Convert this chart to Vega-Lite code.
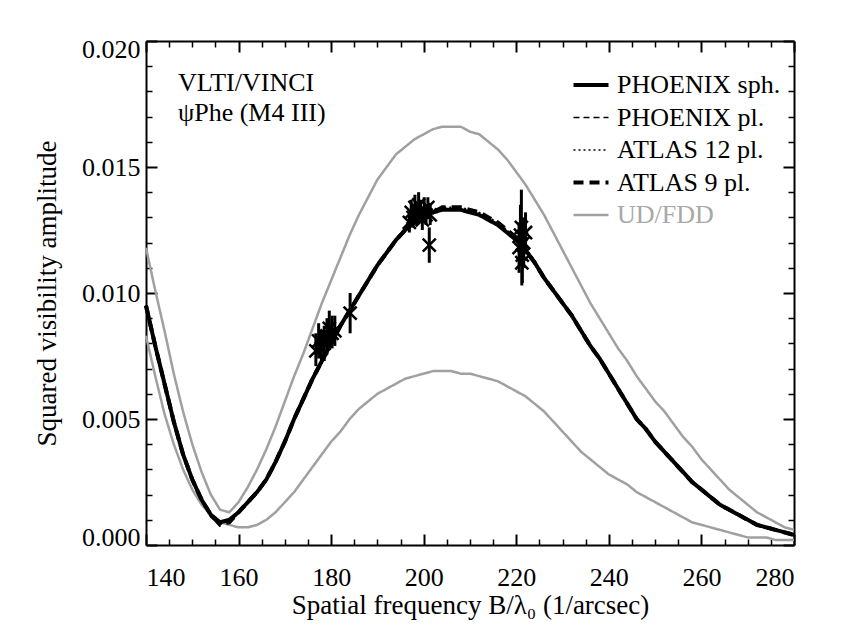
{
  "$schema": "https://vega.github.io/schema/vega-lite/v6.json",
  "width": 648,
  "height": 504,
  "autosize": {"type": "none"},
  "padding": {"left": 146, "top": 41, "right": 59, "bottom": 92},
  "background": "white",
  "config": {
    "view": {"stroke": null},
    "font": "Liberation Serif",
    "axis": {
      "domainColor": "black",
      "domainWidth": 2,
      "tickColor": "black",
      "tickWidth": 2,
      "ticks": true,
      "labelFont": "Liberation Serif",
      "labelFontSize": 26,
      "labelColor": "black",
      "titleFont": "Liberation Serif",
      "titleFontSize": 27,
      "titleFontWeight": "normal",
      "titleColor": "black",
      "grid": false,
      "labelOverlap": false,
      "labelFlush": true
    }
  },
  "datasets": {
    "curves": [
      {"f":140,"ps":0.0095,"pp":0.0095,"a12":0.0095,"a9":0.0095,"ud":0.0118,"fdd":0.0083},
      {"f":142,"ps":0.0079,"pp":0.0079,"a12":0.0079,"a9":0.0079,"ud":0.0101,"fdd":0.0067},
      {"f":144,"ps":0.0064,"pp":0.0064,"a12":0.0064,"a9":0.0064,"ud":0.0085,"fdd":0.0052},
      {"f":146,"ps":0.0049,"pp":0.0049,"a12":0.0049,"a9":0.0049,"ud":0.0068,"fdd":0.0040},
      {"f":148,"ps":0.0036,"pp":0.0036,"a12":0.0036,"a9":0.0036,"ud":0.0053,"fdd":0.0030},
      {"f":150,"ps":0.0026,"pp":0.0026,"a12":0.0026,"a9":0.0026,"ud":0.0040,"fdd":0.0022},
      {"f":152,"ps":0.0018,"pp":0.0018,"a12":0.0018,"a9":0.0018,"ud":0.0029,"fdd":0.0016},
      {"f":154,"ps":0.0012,"pp":0.0011,"a12":0.0012,"a9":0.0012,"ud":0.0020,"fdd":0.0012},
      {"f":156,"ps":0.0009,"pp":0.0008,"a12":0.0009,"a9":0.0008,"ud":0.0014,"fdd":0.0009},
      {"f":158,"ps":0.0010,"pp":0.0010,"a12":0.0010,"a9":0.0009,"ud":0.0013,"fdd":0.0008},
      {"f":160,"ps":0.0013,"pp":0.0013,"a12":0.0013,"a9":0.0013,"ud":0.0017,"fdd":0.0007},
      {"f":162,"ps":0.0017,"pp":0.0017,"a12":0.0017,"a9":0.0017,"ud":0.0023,"fdd":0.0007},
      {"f":164,"ps":0.0021,"pp":0.0021,"a12":0.0021,"a9":0.0021,"ud":0.0030,"fdd":0.0008},
      {"f":166,"ps":0.0026,"pp":0.0026,"a12":0.0026,"a9":0.0026,"ud":0.0038,"fdd":0.0010},
      {"f":168,"ps":0.0033,"pp":0.0033,"a12":0.0033,"a9":0.0033,"ud":0.0047,"fdd":0.0013},
      {"f":170,"ps":0.0041,"pp":0.0041,"a12":0.0041,"a9":0.0041,"ud":0.0057,"fdd":0.0017},
      {"f":172,"ps":0.0050,"pp":0.0050,"a12":0.0050,"a9":0.0050,"ud":0.0067,"fdd":0.0021},
      {"f":174,"ps":0.0058,"pp":0.0058,"a12":0.0058,"a9":0.0058,"ud":0.0076,"fdd":0.0026},
      {"f":176,"ps":0.0066,"pp":0.0066,"a12":0.0066,"a9":0.0066,"ud":0.0086,"fdd":0.0031},
      {"f":178,"ps":0.0073,"pp":0.0073,"a12":0.0073,"a9":0.0073,"ud":0.0096,"fdd":0.0036},
      {"f":180,"ps":0.0080,"pp":0.0080,"a12":0.0080,"a9":0.0080,"ud":0.0105,"fdd":0.0041},
      {"f":182,"ps":0.0087,"pp":0.0087,"a12":0.0087,"a9":0.0087,"ud":0.0114,"fdd":0.0045},
      {"f":184,"ps":0.0093,"pp":0.0093,"a12":0.0093,"a9":0.0093,"ud":0.0123,"fdd":0.0050},
      {"f":186,"ps":0.0099,"pp":0.0099,"a12":0.0099,"a9":0.0099,"ud":0.0131,"fdd":0.0054},
      {"f":188,"ps":0.0105,"pp":0.0105,"a12":0.0105,"a9":0.0105,"ud":0.0138,"fdd":0.0057},
      {"f":190,"ps":0.0111,"pp":0.0111,"a12":0.0111,"a9":0.0111,"ud":0.0145,"fdd":0.0060},
      {"f":192,"ps":0.0116,"pp":0.0116,"a12":0.0116,"a9":0.0116,"ud":0.0150,"fdd":0.0062},
      {"f":194,"ps":0.0121,"pp":0.0121,"a12":0.0121,"a9":0.0121,"ud":0.0155,"fdd":0.0064},
      {"f":196,"ps":0.0125,"pp":0.0125,"a12":0.0125,"a9":0.0125,"ud":0.0158,"fdd":0.0066},
      {"f":198,"ps":0.0128,"pp":0.0128,"a12":0.0128,"a9":0.0128,"ud":0.0161,"fdd":0.0067},
      {"f":200,"ps":0.0131,"pp":0.0131,"a12":0.0132,"a9":0.0131,"ud":0.0163,"fdd":0.0068},
      {"f":202,"ps":0.0132,"pp":0.0132,"a12":0.0133,"a9":0.0132,"ud":0.0165,"fdd":0.0069},
      {"f":204,"ps":0.0133,"pp":0.0133,"a12":0.0134,"a9":0.0134,"ud":0.0166,"fdd":0.0069},
      {"f":206,"ps":0.0133,"pp":0.0133,"a12":0.0134,"a9":0.0134,"ud":0.0166,"fdd":0.0069},
      {"f":208,"ps":0.0133,"pp":0.0133,"a12":0.0134,"a9":0.0134,"ud":0.0166,"fdd":0.0068},
      {"f":210,"ps":0.0132,"pp":0.0132,"a12":0.0133,"a9":0.0133,"ud":0.0164,"fdd":0.0068},
      {"f":212,"ps":0.0131,"pp":0.0131,"a12":0.0132,"a9":0.0132,"ud":0.0163,"fdd":0.0067},
      {"f":214,"ps":0.0129,"pp":0.0129,"a12":0.0130,"a9":0.0130,"ud":0.0160,"fdd":0.0066},
      {"f":216,"ps":0.0127,"pp":0.0127,"a12":0.0128,"a9":0.0128,"ud":0.0157,"fdd":0.0065},
      {"f":218,"ps":0.0124,"pp":0.0124,"a12":0.0125,"a9":0.0125,"ud":0.0153,"fdd":0.0063},
      {"f":220,"ps":0.0121,"pp":0.0121,"a12":0.0122,"a9":0.0122,"ud":0.0148,"fdd":0.0061},
      {"f":222,"ps":0.0117,"pp":0.0117,"a12":0.0118,"a9":0.0117,"ud":0.0143,"fdd":0.0059},
      {"f":224,"ps":0.0112,"pp":0.0112,"a12":0.0113,"a9":0.0112,"ud":0.0137,"fdd":0.0056},
      {"f":226,"ps":0.0106,"pp":0.0106,"a12":0.0106,"a9":0.0106,"ud":0.0131,"fdd":0.0053},
      {"f":228,"ps":0.0101,"pp":0.0101,"a12":0.0101,"a9":0.0101,"ud":0.0124,"fdd":0.0049},
      {"f":230,"ps":0.0096,"pp":0.0096,"a12":0.0096,"a9":0.0096,"ud":0.0117,"fdd":0.0045},
      {"f":232,"ps":0.0091,"pp":0.0091,"a12":0.0091,"a9":0.0091,"ud":0.0110,"fdd":0.0041},
      {"f":234,"ps":0.0085,"pp":0.0085,"a12":0.0085,"a9":0.0085,"ud":0.0103,"fdd":0.0037},
      {"f":236,"ps":0.0079,"pp":0.0079,"a12":0.0079,"a9":0.0079,"ud":0.0096,"fdd":0.0034},
      {"f":238,"ps":0.0074,"pp":0.0074,"a12":0.0074,"a9":0.0074,"ud":0.0090,"fdd":0.0031},
      {"f":240,"ps":0.0068,"pp":0.0068,"a12":0.0068,"a9":0.0068,"ud":0.0084,"fdd":0.0028},
      {"f":242,"ps":0.0062,"pp":0.0062,"a12":0.0062,"a9":0.0062,"ud":0.0078,"fdd":0.0026},
      {"f":244,"ps":0.0056,"pp":0.0056,"a12":0.0056,"a9":0.0056,"ud":0.0073,"fdd":0.0024},
      {"f":246,"ps":0.0050,"pp":0.0050,"a12":0.0050,"a9":0.0050,"ud":0.0067,"fdd":0.0021},
      {"f":248,"ps":0.0046,"pp":0.0046,"a12":0.0046,"a9":0.0046,"ud":0.0062,"fdd":0.0019},
      {"f":250,"ps":0.0041,"pp":0.0041,"a12":0.0041,"a9":0.0041,"ud":0.0057,"fdd":0.0017},
      {"f":252,"ps":0.0037,"pp":0.0037,"a12":0.0037,"a9":0.0037,"ud":0.0053,"fdd":0.0015},
      {"f":254,"ps":0.0033,"pp":0.0033,"a12":0.0033,"a9":0.0033,"ud":0.0048,"fdd":0.0013},
      {"f":256,"ps":0.0029,"pp":0.0029,"a12":0.0029,"a9":0.0029,"ud":0.0043,"fdd":0.0011},
      {"f":258,"ps":0.0025,"pp":0.0025,"a12":0.0025,"a9":0.0025,"ud":0.0039,"fdd":0.0009},
      {"f":260,"ps":0.0022,"pp":0.0022,"a12":0.0022,"a9":0.0022,"ud":0.0034,"fdd":0.0008},
      {"f":262,"ps":0.0019,"pp":0.0019,"a12":0.0019,"a9":0.0019,"ud":0.0030,"fdd":0.0007},
      {"f":264,"ps":0.0016,"pp":0.0016,"a12":0.0016,"a9":0.0016,"ud":0.0026,"fdd":0.0006},
      {"f":266,"ps":0.0014,"pp":0.0014,"a12":0.0014,"a9":0.0014,"ud":0.0022,"fdd":0.0005},
      {"f":268,"ps":0.0012,"pp":0.0012,"a12":0.0012,"a9":0.0012,"ud":0.0019,"fdd":0.0004},
      {"f":270,"ps":0.0010,"pp":0.0010,"a12":0.0010,"a9":0.0010,"ud":0.0016,"fdd":0.0003},
      {"f":272,"ps":0.0008,"pp":0.0008,"a12":0.0008,"a9":0.0008,"ud":0.0013,"fdd":0.0003},
      {"f":274,"ps":0.0007,"pp":0.0007,"a12":0.0007,"a9":0.0007,"ud":0.0011,"fdd":0.0003},
      {"f":276,"ps":0.0006,"pp":0.0006,"a12":0.0006,"a9":0.0006,"ud":0.0009,"fdd":0.0002},
      {"f":278,"ps":0.0005,"pp":0.0005,"a12":0.0005,"a9":0.0005,"ud":0.0007,"fdd":0.0002},
      {"f":280,"ps":0.0004,"pp":0.0004,"a12":0.0004,"a9":0.0004,"ud":0.0006,"fdd":0.0002}
    ],
    "obs": [
      {"f":176.7,"v":0.0077,"lo":0.0071,"hi":0.0084},
      {"f":177.3,"v":0.0081,"lo":0.0074,"hi":0.0088},
      {"f":177.9,"v":0.0078,"lo":0.0072,"hi":0.0085},
      {"f":178.5,"v":0.0080,"lo":0.0073,"hi":0.0087},
      {"f":179.1,"v":0.0083,"lo":0.0077,"hi":0.0090},
      {"f":179.6,"v":0.0086,"lo":0.0079,"hi":0.0093},
      {"f":180.2,"v":0.0084,"lo":0.0078,"hi":0.0091},
      {"f":180.8,"v":0.0085,"lo":0.0079,"hi":0.0091},
      {"f":184.1,"v":0.0092,"lo":0.0084,"hi":0.0100},
      {"f":196.9,"v":0.0128,"lo":0.0124,"hi":0.0132},
      {"f":197.3,"v":0.0132,"lo":0.0127,"hi":0.0137},
      {"f":197.7,"v":0.0130,"lo":0.0126,"hi":0.0135},
      {"f":198.1,"v":0.0134,"lo":0.0129,"hi":0.0139},
      {"f":198.5,"v":0.0131,"lo":0.0127,"hi":0.0135},
      {"f":198.9,"v":0.0135,"lo":0.0130,"hi":0.0140},
      {"f":199.3,"v":0.0132,"lo":0.0128,"hi":0.0137},
      {"f":199.7,"v":0.0129,"lo":0.0125,"hi":0.0134},
      {"f":200.1,"v":0.0133,"lo":0.0129,"hi":0.0138},
      {"f":200.5,"v":0.0131,"lo":0.0127,"hi":0.0135},
      {"f":200.9,"v":0.0134,"lo":0.0130,"hi":0.0138},
      {"f":201.4,"v":0.0131,"lo":0.0127,"hi":0.0135},
      {"f":201.2,"v":0.0119,"lo":0.0112,"hi":0.0126},
      {"f":220.6,"v":0.0118,"lo":0.0108,"hi":0.0128},
      {"f":220.9,"v":0.0123,"lo":0.0111,"hi":0.0135},
      {"f":221.1,"v":0.0126,"lo":0.0112,"hi":0.0141},
      {"f":221.3,"v":0.0115,"lo":0.0104,"hi":0.0126},
      {"f":221.6,"v":0.0120,"lo":0.0110,"hi":0.0130},
      {"f":222.0,"v":0.0124,"lo":0.0116,"hi":0.0132},
      {"f":221.2,"v":0.0112,"lo":0.0103,"hi":0.0121}
    ],
    "notes": [
      {"t":"VLTI/VINCI","f":146.9,"v":0.01833},
      {"t":"ψPhe (M4 III)","f":146.9,"v":0.01714}
    ]
  },
  "layer": [
    {
      "encoding": {
        "x": {
          "field": "f", "type": "quantitative",
          "scale": {"domain": [140, 280], "nice": false, "zero": false},
          "axis": {
            "orient": "bottom",
            "values": [140,160,180,200,220,240,260,280],
            "format": "d",
            "tickSize": -11,
            "labelPadding": 30,
            "title": "Spatial frequency B/λ₀ (1/arcsec)",
            "titlePadding": 2
          }
        },
        "y": {
          "field": "v", "type": "quantitative",
          "scale": {"domain": [0, 0.02], "nice": false, "zero": false},
          "axis": {
            "orient": "left",
            "values": [0,0.005,0.010,0.015,0.020],
            "format": ".3f",
            "tickSize": -11,
            "labelPadding": 17,
            "labelFlushOffset": 5,
            "title": "Squared visibility amplitude",
            "titlePadding": 20
          }
        }
      },
      "layer": [
        {
          "data": {"name": "curves"},
          "transform": [{"fold": ["ud", "fdd"], "as": ["c", "v"]}],
          "mark": {"type": "line", "strokeWidth": 2.5},
          "encoding": {
            "detail": {"field": "c", "type": "nominal"},
            "color": {"datum": "ug", "type": "nominal"},
            "strokeDash": {"datum": "ug", "type": "nominal"}
          }
        },
        {
          "data": {"name": "curves"},
          "transform": [{"fold": ["ps"], "as": ["c", "v"]}],
          "mark": {"type": "line", "strokeWidth": 4},
          "encoding": {
            "color": {
              "field": "c", "type": "nominal",
              "scale": {"domain": ["ps", "pp", "a12", "a9", "ug"], "range": ["black", "black", "black", "black", "#a0a0a0"]},
              "legend": {
                "title": null,
                "orient": "none",
                "legendX": 432,
                "legendY": 31,
                "padding": 0,
                "symbolType": "stroke",
                "symbolSize": 1225,
                "labelFont": "Liberation Serif",
                "labelFontSize": 26,
                "labelColor": "black",
                "labelOffset": 13,
                "rowPadding": 6.5,
                "labelLimit": 400,
                "labelExpr": "{'ps': 'PHOENIX  sph.', 'pp': 'PHOENIX pl.', 'a12': 'ATLAS 12 pl.', 'a9': 'ATLAS  9  pl.', 'ug': 'UD/FDD'}[datum.value]",
                "encode": {
                  "labels": {"update": {"fill": {"signal": "datum.value === 'ug' ? '#a8a8a8' : 'black'"}}},
                  "symbols": {"update": {"strokeWidth": {"signal": "datum.value === 'ps' || datum.value === 'a9' ? 4 : (datum.value === 'ug' ? 2.5 : 1.5)"}}}
                }
              }
            },
            "strokeDash": {
              "field": "c", "type": "nominal",
              "scale": {"domain": ["ps", "pp", "a12", "a9", "ug"], "range": [[1, 0], [6, 4], [2, 3], [10, 6], [1, 0]]},
              "legend": {
                "title": null,
                "orient": "none",
                "legendX": 432,
                "legendY": 31,
                "padding": 0,
                "symbolType": "stroke",
                "symbolSize": 1225,
                "labelFont": "Liberation Serif",
                "labelFontSize": 26,
                "labelColor": "black",
                "labelOffset": 13,
                "rowPadding": 6.5,
                "labelLimit": 400,
                "labelExpr": "{'ps': 'PHOENIX  sph.', 'pp': 'PHOENIX pl.', 'a12': 'ATLAS 12 pl.', 'a9': 'ATLAS  9  pl.', 'ug': 'UD/FDD'}[datum.value]",
                "encode": {
                  "labels": {"update": {"fill": {"signal": "datum.value === 'ug' ? '#a8a8a8' : 'black'"}}},
                  "symbols": {"update": {"strokeWidth": {"signal": "datum.value === 'ps' || datum.value === 'a9' ? 4 : (datum.value === 'ug' ? 2.5 : 1.5)"}}}
                }
              }
            }
          }
        },
        {
          "data": {"name": "curves"},
          "transform": [{"fold": ["pp"], "as": ["c", "v"]}],
          "mark": {"type": "line", "strokeWidth": 1.5},
          "encoding": {
            "color": {"field": "c", "type": "nominal"},
            "strokeDash": {"field": "c", "type": "nominal"}
          }
        },
        {
          "data": {"name": "curves"},
          "transform": [{"fold": ["a12"], "as": ["c", "v"]}],
          "mark": {"type": "line", "strokeWidth": 1.5},
          "encoding": {
            "color": {"field": "c", "type": "nominal"},
            "strokeDash": {"field": "c", "type": "nominal"}
          }
        },
        {
          "data": {"name": "curves"},
          "transform": [{"fold": ["a9"], "as": ["c", "v"]}],
          "mark": {"type": "line", "strokeWidth": 4},
          "encoding": {
            "color": {"field": "c", "type": "nominal"},
            "strokeDash": {"field": "c", "type": "nominal"}
          }
        }
      ]
    },
    {
      "data": {"name": "obs"},
      "mark": {"type": "rule", "color": "black", "strokeWidth": 3},
      "encoding": {
        "x": {
          "field": "f", "type": "quantitative",
          "scale": {"domain": [140, 280], "nice": false, "zero": false},
          "axis": {"orient": "top", "values": [140,160,180,200,220,240,260,280], "labels": false, "tickSize": -11, "title": null}
        },
        "y": {
          "field": "lo", "type": "quantitative",
          "scale": {"domain": [0, 0.02], "nice": false, "zero": false},
          "axis": {"orient": "right", "values": [0,0.005,0.010,0.015,0.020], "labels": false, "tickSize": -11, "title": null}
        },
        "y2": {"field": "hi"}
      }
    },
    {
      "data": {"name": "notes"},
      "mark": {"type": "text", "align": "left", "baseline": "middle", "font": "Liberation Serif", "fontSize": 26, "color": "black"},
      "encoding": {
        "x": {
          "field": "f", "type": "quantitative",
          "scale": {"domain": [140, 280], "nice": false, "zero": false},
          "axis": {"orient": "bottom", "values": [145,150,155,165,170,175,185,190,195,205,210,215,225,230,235,245,250,255,265,270,275], "labels": false, "domain": false, "tickSize": -6, "tickWidth": 1.5, "title": null}
        },
        "y": {
          "field": "v", "type": "quantitative",
          "scale": {"domain": [0, 0.02], "nice": false, "zero": false},
          "axis": {"orient": "left", "values": [0.001,0.002,0.003,0.004,0.006,0.007,0.008,0.009,0.011,0.012,0.013,0.014,0.016,0.017,0.018,0.019], "labels": false, "domain": false, "tickSize": -6, "tickWidth": 1.5, "title": null}
        },
        "text": {"field": "t", "type": "nominal"}
      }
    },
    {
      "data": {"name": "obs"},
      "mark": {"type": "point", "shape": "M-1,-1L1,1M-1,1L1,-1", "filled": false, "stroke": "black", "strokeWidth": 2.5, "size": 170, "opacity": 1},
      "encoding": {
        "x": {
          "field": "f", "type": "quantitative",
          "scale": {"domain": [140, 280], "nice": false, "zero": false},
          "axis": {"orient": "top", "values": [145,150,155,165,170,175,185,190,195,205,210,215,225,230,235,245,250,255,265,270,275], "labels": false, "domain": false, "tickSize": -6, "tickWidth": 1.5, "title": null}
        },
        "y": {
          "field": "v", "type": "quantitative",
          "scale": {"domain": [0, 0.02], "nice": false, "zero": false},
          "axis": {"orient": "right", "values": [0.001,0.002,0.003,0.004,0.006,0.007,0.008,0.009,0.011,0.012,0.013,0.014,0.016,0.017,0.018,0.019], "labels": false, "domain": false, "tickSize": -6, "tickWidth": 1.5, "title": null}
        }
      }
    }
  ],
  "resolve": {
    "scale": {"x": "independent", "y": "independent"},
    "axis": {"x": "independent", "y": "independent"}
  }
}
